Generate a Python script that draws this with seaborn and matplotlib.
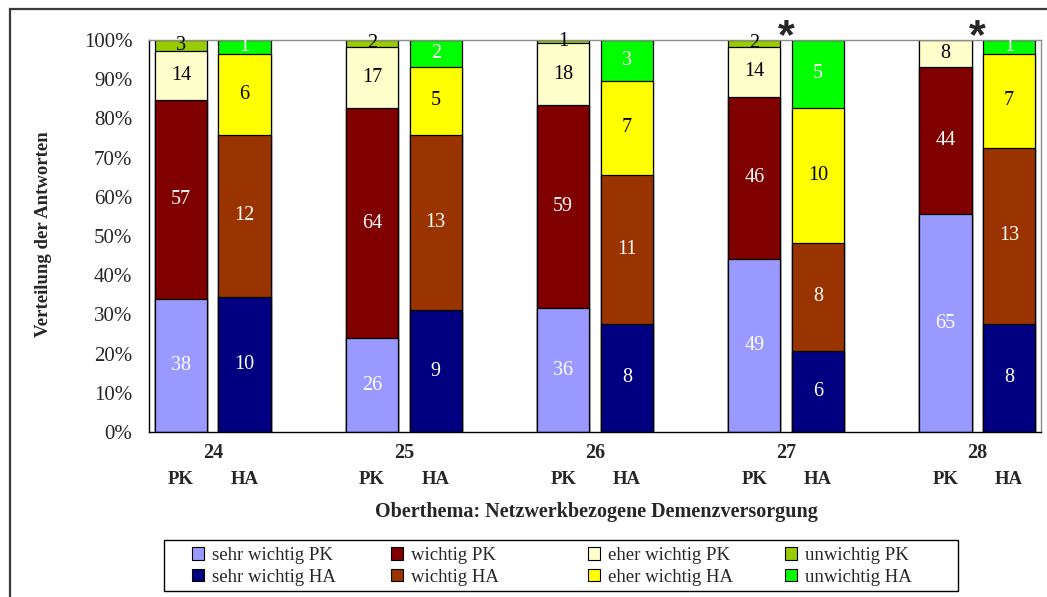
import pandas as pd
import seaborn as sns

import matplotlib.pyplot as plt
import matplotlib.ticker as mticker
from matplotlib.patches import Patch, Rectangle
from matplotlib.transforms import blended_transform_factory

sns.set_style("white")
plt.rcParams["font.family"] = ["Liberation Serif", "DejaVu Serif"]

# data: answers per sub-topic, nurses (PK) and general practitioners (HA)
themen = ["24", "25", "26", "27", "28"]
stufen = ["sehr wichtig", "wichtig", "eher wichtig", "unwichtig"]

sehr_wichtig_pk = [38, 26, 36, 49, 65]
wichtig_pk = [57, 64, 59, 46, 44]
eher_wichtig_pk = [14, 17, 18, 14, 8]
unwichtig_pk = [3, 2, 1, 2, 0]

sehr_wichtig_ha = [10, 9, 8, 6, 8]
wichtig_ha = [12, 13, 11, 8, 13]
eher_wichtig_ha = [6, 5, 7, 10, 7]
unwichtig_ha = [1, 2, 3, 5, 1]

signifikant = ["27", "28"]

farben = {
    "sehr wichtig PK": "#9999FF", "wichtig PK": "#800000",
    "eher wichtig PK": "#FFFFCC", "unwichtig PK": "#99CC00",
    "sehr wichtig HA": "#000080", "wichtig HA": "#993300",
    "eher wichtig HA": "#FFFF00", "unwichtig HA": "#00FF00",
}
weisse_schrift = {"sehr wichtig PK", "wichtig PK", "sehr wichtig HA", "wichtig HA", "unwichtig HA"}

werte = {
    "PK": [sehr_wichtig_pk, wichtig_pk, eher_wichtig_pk, unwichtig_pk],
    "HA": [sehr_wichtig_ha, wichtig_ha, eher_wichtig_ha, unwichtig_ha],
}

rows = []
for gruppe, serien in werte.items():
    for i, thema in enumerate(themen):
        for stufe, serie in zip(stufen, serien):
            rows.append({"thema": thema, "gruppe": gruppe, "stufe": stufe, "n": serie[i]})
df = pd.DataFrame(rows)
df["slot"] = df["thema"] + " " + df["gruppe"]
df["serie"] = df["stufe"] + " " + df["gruppe"]
df["pct"] = df["n"] / df.groupby("slot")["n"].transform("sum") * 100
df["top"] = df.groupby("slot")["pct"].cumsum()
df["bottom"] = df["top"] - df["pct"]

order = []
for thema in themen:
    order += [thema + " PK", thema + " HA", thema + " -"]
order = order[:-1]

# draw tallest cumulative layer first so lower layers sit on top
draw_order = [s + " " + g for s in stufen[::-1] for g in ["PK", "HA"]]

fig = plt.figure(figsize=(10.47, 5.97), dpi=100)
ax = fig.add_axes([149 / 1047, 1 - 432 / 597, (1041 - 149) / 1047, (432 - 40) / 597])

sns.barplot(
    data=df, x="slot", y="top", hue="serie", order=order, hue_order=draw_order,
    palette=farben, dodge=False, width=0.82, saturation=1,
    edgecolor="black", linewidth=0.9, legend=False, ax=ax
)

for _, r in df[df["n"] > 0].iterrows():
    ax.text(order.index(r["slot"]), r["bottom"] + r["pct"] / 2, str(r["n"]),
            ha="center", va="center", fontsize=14.5,
            color="white" if r["serie"] in weisse_schrift else "black")

ax.set_xlim(-0.5, len(order) - 0.5)
ax.set_ylim(0, 100)
ax.yaxis.set_major_locator(mticker.MultipleLocator(10))
ax.yaxis.set_major_formatter(mticker.FormatStrFormatter("%d%%"))
ax.set_xticks([i - 0.5 for i in range(len(order) + 1)])
ax.set_xticklabels([])
ax.tick_params(axis="both", direction="out", length=6, width=1, color="black")
ax.tick_params(axis="y", labelsize=15, pad=6)
ax.set_xlabel(""); ax.set_ylabel("")

for s in ["left", "bottom"]:
    ax.spines[s].set_color("black"); ax.spines[s].set_linewidth(1)
for s in ["top", "right"]:
    ax.spines[s].set_color("#8c8c8c"); ax.spines[s].set_linewidth(1)

trans = blended_transform_factory(ax.transData, fig.transFigure)
for thema in themen:
    i = order.index(thema + " PK")
    ax.text(i + 0.5, 1 - 453 / 597, thema, transform=trans, ha="center", va="center",
            fontsize=14.5, fontweight="bold")
    ax.text(i, 1 - 480 / 597, "PK", transform=trans, ha="center", va="center",
            fontsize=13.5, fontweight="bold")
    ax.text(i + 1, 1 - 480 / 597, "HA", transform=trans, ha="center", va="center",
            fontsize=13.5, fontweight="bold")
    if thema in signifikant:
        ax.text(i + 0.5, 1 - 37 / 597, "*", transform=trans, ha="center", va="center",
                fontsize=31, fontweight="bold", family="Liberation Sans")

fig.text(596 / 1047, 1 - 512 / 597, "Oberthema: Netzwerkbezogene Demenzversorgung",
         ha="center", va="center", fontsize=14.5, fontweight="bold")
fig.text(44 / 1047, 1 - 234 / 597, "Verteilung der Antworten", rotation=90,
         ha="center", va="center", fontsize=13.5, fontweight="bold")

# legend: four fixed-width columns inside one frame
legend_cols = [(s + " PK", s + " HA") for s in stufen]
col_x = [192, 391, 588, 785]
for (pk, ha), x0 in zip(legend_cols, col_x):
    handles = [Patch(facecolor=farben[pk], edgecolor="black", linewidth=0.8, label=pk),
               Patch(facecolor=farben[ha], edgecolor="black", linewidth=0.8, label=ha)]
    fig.legend(handles=handles, loc="upper left", bbox_to_anchor=(x0 / 1047, 1 - 547 / 597),
               frameon=False, fontsize=13.5, handlelength=0.65, handleheight=0.65,
               handletextpad=0.4, labelspacing=0.25, borderpad=0, borderaxespad=0)

fig.patches.append(Rectangle((164 / 1047, 1 - 591 / 597), (958 - 164) / 1047, 51 / 597,
                             transform=fig.transFigure, fill=False, edgecolor="black", linewidth=1))
fig.patches.append(Rectangle((10 / 1047, -0.2), 1.2, 1.2 - 9 / 597,
                             transform=fig.transFigure, fill=False, edgecolor="#3a3a3a", linewidth=1.6))

plt.savefig("out.png", dpi=100)
plt.close()
